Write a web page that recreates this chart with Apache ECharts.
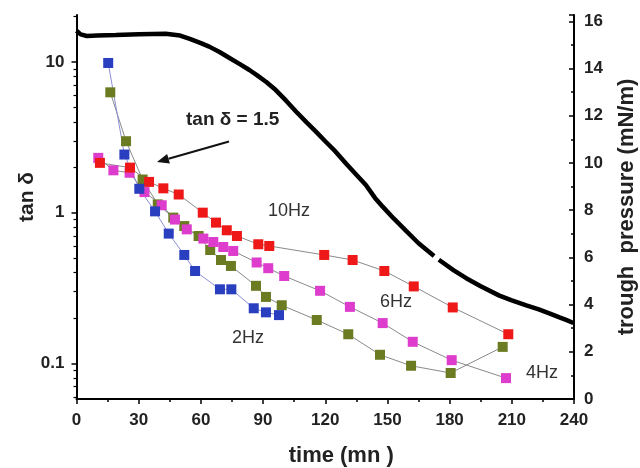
<!DOCTYPE html>
<html><head><meta charset="utf-8">
<script src="https://cdn.jsdelivr.net/npm/echarts@6/dist/echarts.min.js"></script>
<style>html,body{margin:0;padding:0;background:#fff}#c{width:640px;height:468px}</style>
</head><body><div id="c"></div>
<script>
// time (mn) / tan delta values
var xTicks = [0,30,60,90,120,150,180,210,240];
var leftTicks = [0.1,1,10];
var leftMinorTicks = [0.06,0.07,0.08,0.09,0.2,0.3,0.4,0.5,0.6,0.7,0.8,0.9,2,3,4,5,6,7,8,9,20];
var rightTicks = [0,2,4,6,8,10,12,14,16];

var hz2 = [[15.3,9.85],[23.1,2.43],[30.3,1.44],[37.9,1.02],[44.5,0.726],[52,0.524],[57.2,0.41],[69.2,0.31],[74.7,0.31],[85.5,0.232],[91.4,0.218],[97.7,0.209]];
var hz4 = [[16.3,6.29],[23.9,2.98],[31.9,1.66],[39.2,1.135],[46.7,0.927],[52,0.815],[58.9,0.70],[64.5,0.565],[69.7,0.485],[74.5,0.443],[86.6,0.327],[91.4,0.276],[99,0.243],[115.9,0.194],[131.1,0.156],[146.4,0.114],[161.4,0.0964],[180.5,0.0863],[205.6,0.1286]];
var hz6 = [[10.5,2.31],[17.8,1.91],[25.6,1.84],[32.8,1.37],[41.1,1.12],[47.5,0.9],[53.2,0.775],[61.2,0.673],[66,0.639],[70.8,0.592],[75.6,0.557],[86.9,0.467],[92.5,0.428],[100.2,0.38],[117.5,0.303],[131.9,0.237],[147.7,0.185],[162.2,0.139],[181,0.105],[207.2,0.0798]];
var hz10 = [[11.3,2.14],[25.8,1.99],[35,1.6],[41.9,1.45],[49.3,1.32],[60.9,1.0],[67.3,0.859],[72.5,0.764],[77.4,0.70],[87.7,0.617],[93,0.601],[119.5,0.524],[133.2,0.485],[148.5,0.41],[162.7,0.324],[181.5,0.235],[208.3,0.156]];
var pressure = [[0,15.6],[2,15.45],[5,15.38],[10,15.4],[19,15.42],[30,15.45],[43,15.48],[50,15.4],[55,15.25],[60,15.08],[64,14.93],[69,14.7],[74,14.44],[79,14.18],[83.4,13.94],[87,13.72],[91.4,13.44],[96,13.1],[101,12.65],[106,12.17],[111,11.72],[115.5,11.33],[120,10.92],[125,10.48],[130,9.98],[135,9.5],[139.6,9.07],[144,8.52],[147.7,8.15],[153,7.65],[159,7.12],[165,6.6],[172.5,6.06],null,[174.8,5.9],[182,5.45],[188,5.12],[195,4.78],[204,4.38],[210,4.18],[217,3.97],[223,3.8],[228.4,3.62],[233,3.46],[236.5,3.34],[239.7,3.22]];

var tickFont = {fontFamily:'Liberation Sans, Arial, sans-serif', fontWeight:'bold', fontSize:17, color:'#222'};
var axisLine = {show:true, lineStyle:{color:'#000', width:2}};

function ptSeries(name, data, color, lineColor) {
  return {name:name, type:'line', yAxisIndex:0, data:data, symbol:'rect', symbolSize:10,
    itemStyle:{color:color}, lineStyle:{color:lineColor, width:1}, z:3};
}

var chart = echarts.init(document.getElementById('c'), null, {renderer:'canvas'});
chart.setOption({
  animation:false,
  backgroundColor:'#fff',
  grid:{left:76.5, right:66, top:15, bottom:69, containLabel:false, outerBoundsMode:'none'},
  xAxis:{type:'value', min:0, max:240, interval:30,
    axisLine:axisLine, splitLine:{show:false},
    axisTick:{show:true, length:5, lineStyle:{color:'#000', width:1.5}},
    minorTick:{show:true, splitNumber:2, length:3, lineStyle:{color:'#000', width:1.5}},
    axisLabel:Object.assign({margin:13, formatter:function(v){return xTicks.indexOf(v)>=0?String(v):'';}}, tickFont),
    name:'time (mn )', nameLocation:'middle', nameGap:46,
    nameTextStyle:{fontFamily:'Liberation Sans, Arial, sans-serif', fontWeight:'bold', fontSize:22, color:'#222', padding:[0,0,0,32]}
  },
  yAxis:[
    {type:'log', logBase:10, min:0.058, max:20.5, position:'left',
      axisLine:axisLine, splitLine:{show:false},
      axisTick:{show:true, length:5, customValues:leftTicks, lineStyle:{color:'#000', width:1.5}},
      axisLabel:Object.assign({margin:12, customValues:leftTicks, formatter:function(v){
        var l = Math.round(Math.log10(v)); return l===-1?'0.1':(l===0?'1':(l===1?'10':''));}}, tickFont)
    },
    {type:'value', min:0, max:16.27, interval:2, position:'right',
      axisLine:axisLine, splitLine:{show:false},
      axisTick:{show:true, inside:true, length:5, lineStyle:{color:'#000', width:1.5}},
      minorTick:{show:true, splitNumber:2, length:3, lineStyle:{color:'#000', width:1.5}},
      axisLabel:Object.assign({margin:10, formatter:function(v){return rightTicks.indexOf(v)>=0?String(v):'';}}, tickFont),
      name:'trough  pressure (mN/m)', nameLocation:'middle', nameGap:42, nameRotate:90,
      nameTextStyle:{fontFamily:'Liberation Sans, Arial, sans-serif', fontWeight:'bold', fontSize:22, color:'#222'}
    },
    {type:'log', logBase:10, min:0.058, max:20.5, position:'left',
      axisLine:{show:false}, splitLine:{show:false}, axisLabel:{show:false},
      axisTick:{show:true, length:3, customValues:leftMinorTicks, lineStyle:{color:'#000', width:1.2}}
    }
  ],
  series:[
    {name:'pressure', type:'line', yAxisIndex:1, data:pressure, showSymbol:false, connectNulls:false,
      lineStyle:{color:'#000', width:4.5}, z:2},
    ptSeries('4Hz', hz4, '#6b7b22', '#8a8a8a'),
    ptSeries('6Hz', hz6, '#dd3ccc', '#8a8a8a'),
    ptSeries('10Hz', hz10, '#ee1818', '#8a8a8a'),
    ptSeries('2Hz', hz2, '#2a3fbf', '#8c90d8')
  ],
  graphic:[
    {type:'text', x:27, y:197, rotation:Math.PI/2, style:{text:'tan δ', font:'bold 21px Liberation Sans, Arial, sans-serif', fill:'#222', align:'center', verticalAlign:'middle'}},
    {type:'text', left:186, top:110, style:{text:'tan δ = 1.5', font:'bold 19px Liberation Sans, Arial, sans-serif', fill:'#222'}},
    {type:'line', shape:{x1:229, y1:141.5, x2:168.5, y2:158.7}, style:{stroke:'#111', lineWidth:2}},
    {type:'polygon', shape:{points:[[157,162],[169.9,163.5],[167.1,153.9]]}, style:{fill:'#111'}},
    {type:'text', x:289, y:211, style:{text:'10Hz', font:'18px Liberation Sans, Arial, sans-serif', fill:'#333', align:'center', verticalAlign:'middle'}},
    {type:'text', x:248, y:338, style:{text:'2Hz', font:'18px Liberation Sans, Arial, sans-serif', fill:'#333', align:'center', verticalAlign:'middle'}},
    {type:'text', x:396, y:302, style:{text:'6Hz', font:'18px Liberation Sans, Arial, sans-serif', fill:'#333', align:'center', verticalAlign:'middle'}},
    {type:'text', x:542, y:373, style:{text:'4Hz', font:'18px Liberation Sans, Arial, sans-serif', fill:'#333', align:'center', verticalAlign:'middle'}}
  ]
});
</script></body></html>
